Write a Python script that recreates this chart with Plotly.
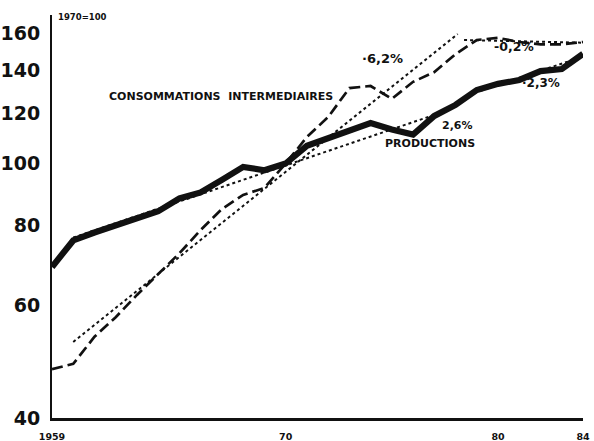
import math
import plotly.graph_objects as go

years = list(range(1959, 1985))

productions = [68.9, 75.8, 78.0, 80.0, 82.2, 84.2, 88.2, 90.1, 94.3, 98.8, 97.6, 100.0,
               106.6, 109.6, 112.7, 115.7, 113.0, 111.0, 118.7, 123.5, 130.3, 133.2,
               135.1, 139.5, 140.5, 148.4]

consommations = [47.7, 48.6, 53.6, 57.5, 62.3, 67.2, 72.4, 78.7, 84.9, 89.3, 91.6, 100.0,
                 110.0, 118.2, 131.2, 132.2, 126.2, 134.2, 139.0, 148.3, 156.0, 157.2,
                 154.9, 153.6, 153.6, 154.9]

# trend segments (start/end)
trend_prod_1_x = [1960, 1977.6]
trend_prod_1_y = [76.6, 121.0]
trend_prod_2_x = [1978.6, 1984]
trend_prod_2_y = [128.0, 147.0]
trend_cons_1_x = [1960, 1978.1]
trend_cons_1_y = [52.6, 159.4]
trend_cons_2_x = [1978.4, 1984]
trend_cons_2_y = [156.0, 154.5]

ytick_vals = [40, 60, 80, 100, 120, 140, 160]
xtick_vals = [1959, 1970, 1980, 1984]
xtick_text = ["1959", "70", "80", "84"]

BLACK = "#111111"
fig = go.Figure()

dot = dict(color=BLACK, width=2, dash="3px,3px")
for tx, ty in [(trend_prod_1_x, trend_prod_1_y), (trend_prod_2_x, trend_prod_2_y),
               (trend_cons_1_x, trend_cons_1_y), (trend_cons_2_x, trend_cons_2_y)]:
    fig.add_trace(go.Scatter(x=tx, y=ty, mode="lines", line=dot, showlegend=False,
                             hoverinfo="skip"))

fig.add_trace(go.Scatter(x=years, y=consommations, mode="lines", name="Consommations intermédiaires",
                         line=dict(color=BLACK, width=2.7, dash="11px,5px"), showlegend=False))
fig.add_trace(go.Scatter(x=years, y=productions, mode="lines", name="Productions",
                         line=dict(color=BLACK, width=6.2), showlegend=False))

W, H = 594, 441
PL, PR, PT, PB = 52, 583, 15, 418
L, R, T, B = PL, W - PR, PT, H - PB
pw, ph = PR - PL, PB - PT

def px(x):
    return (x - PL) / pw

def py(y):
    return (PB - y) / ph

ann_font = dict(family="DejaVu Sans", size=11, color=BLACK)
annotations = [
    dict(text="<b>1970=100</b>", x=px(56), y=py(17), font=dict(family="DejaVu Sans", size=8.5, color=BLACK)),
    dict(text="<b>CONSOMMATIONS  INTERMEDIAIRES</b>", x=px(107), y=py(96), font=ann_font),
    dict(text="<b>PRODUCTIONS</b>", x=px(383), y=py(143), font=ann_font),
    dict(text="<b>·6,2%</b>", x=px(360), y=py(58), font=dict(family="DejaVu Sans", size=13, color=BLACK)),
    dict(text="<b>-0,2%</b>", x=px(492), y=py(47), font=dict(family="DejaVu Sans", size=12.5, color=BLACK)),
    dict(text="<b>·2,3%</b>", x=px(520), y=py(83), font=dict(family="DejaVu Sans", size=12, color=BLACK)),
    dict(text="<b>2,6%</b>", x=px(440), y=py(125), font=dict(family="DejaVu Sans", size=11, color=BLACK)),
]
for a in annotations:
    a.update(xref="paper", yref="paper", xanchor="left", yanchor="middle", showarrow=False)

fig.update_layout(
    width=W, height=H,
    margin=dict(l=L, r=R, t=T, b=B),
    paper_bgcolor="white", plot_bgcolor="white",
    annotations=annotations,
    xaxis=dict(range=[1959, 1984], tickvals=xtick_vals, ticktext=xtick_text, automargin=False,
               showgrid=False, zeroline=False, showline=True, linecolor=BLACK, linewidth=2.5,
               ticks="", ticklabelstandoff=8,
               tickfont=dict(family="DejaVu Sans", size=9.5, color=BLACK, weight="bold")),
    yaxis=dict(type="log", range=[math.log10(40), math.log10(170.7)], tickvals=ytick_vals,
               ticktext=[str(v) for v in ytick_vals], automargin=False,
               showgrid=False, zeroline=False, showline=True, linecolor=BLACK, linewidth=2,
               ticks="", ticklabelstandoff=6,
               tickfont=dict(family="DejaVu Sans", size=19, color=BLACK, weight="bold")),
)

fig.write_html("out.html", config={"displayModeBar": False},
               post_script="document.body.style.margin='0px';")
